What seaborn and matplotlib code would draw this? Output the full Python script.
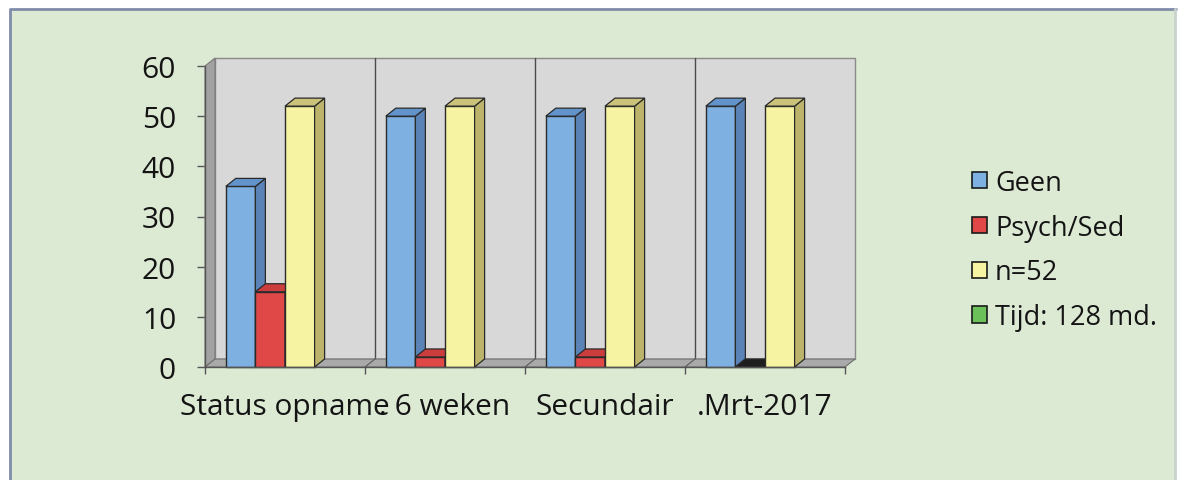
import numpy as np
import pandas as pd
import matplotlib
matplotlib.use("Agg")
import matplotlib.pyplot as plt
from matplotlib.patches import Rectangle, Polygon, Patch
from matplotlib.lines import Line2D
from matplotlib.colors import to_hex
import seaborn as sns

# ---- data ----
categories = ["Status opname", ". 6 weken", "Secundair", ".Mrt-2017"]
series = ["Geen", "Psych/Sed", "n=52", "Tijd: 128 md."]
geen = [36, 50, 50, 52]
psych_sed = [15, 2, 2, 0]
n52 = [52, 52, 52, 52]
tijd = [np.nan, np.nan, np.nan, np.nan]
yticks = [0, 10, 20, 30, 40, 50, 60]

front_colors = ["#7EB1E1", "#E04848", "#F6F3A2", "#6CC05A"]
side_colors = ["#5A84B8", "#C23636", "#BDB46C", "#4F9A40"]
top_colors = ["#6393CB", "#CC3D3D", "#CCC27A", "#5BAE4B"]

df = pd.DataFrame({
    "category": np.repeat(categories, len(series)),
    "series": series * len(categories),
    "value": np.array([geen, psych_sed, n52, tijd]).T.ravel(),
})

sns.set_theme(style="white")
plt.rcParams["font.family"] = ["Open Sans", "DejaVu Sans"]

W, H = 1184, 481
fig = plt.figure(figsize=(W / 100, H / 100), dpi=100)
fig.patch.set_facecolor("white")

# outer panel
fig.add_artist(Rectangle((10 / W, -0.1), 1166 / W, (H - 10) / H + 0.1,
                         transform=fig.transFigure, facecolor="#DCE9D3",
                         edgecolor="none", zorder=0))
fig.add_artist(Line2D([10 / W, 10 / W, 1176 / W], [-0.1, 1 - 10 / H, 1 - 10 / H],
                      transform=fig.transFigure, color="#7F8CAA", lw=2, zorder=0.1))
fig.add_artist(Line2D([1175 / W, 1175 / W], [-0.1, 1 - 10 / H],
                      transform=fig.transFigure, color="#C9D3CC", lw=2, zorder=0.1))

ax = fig.add_axes([205 / W, 1 - 368 / H, 640 / W, 301 / H])
ax.set_facecolor("none")

sns.barplot(data=df, x="category", y="value", hue="series", order=categories,
            hue_order=series, palette=front_colors, width=0.74, saturation=1,
            edgecolor="#2A2A2A", linewidth=1.0, legend=False, ax=ax)
bars = [p for p in ax.patches if isinstance(p, Rectangle)]

ax.set_xlim(-0.5, len(categories) - 0.5)
ax.set_ylim(0, 60)

# depth offset (10 px right, 8 px up) in data units
dx = 10 / 160
dy = 8 * 60 / 301
x0, x1 = -0.5, len(categories) - 0.5

wall_kw = dict(clip_on=False)
# back wall
ax.add_patch(Rectangle((x0 + dx, dy), x1 - x0, 60, facecolor="#D8D8D8",
                       edgecolor="#8A8A8A", linewidth=1, zorder=0.5, **wall_kw))
# left side wall
ax.add_patch(Polygon([(x0, 0), (x0 + dx, dy), (x0 + dx, 60 + dy), (x0, 60)],
                     closed=True, facecolor="#A2A2A2", edgecolor="#7A7A7A",
                     linewidth=0.8, zorder=0.6, **wall_kw))
# floor
ax.add_patch(Polygon([(x0, 0), (x1, 0), (x1 + dx, dy), (x0 + dx, dy)],
                     closed=True, facecolor="#A9A9A9", edgecolor="#6E6E6E",
                     linewidth=0.8, zorder=0.6, **wall_kw))
# category dividers on back wall and floor
for b in np.arange(x0 + 1, x1, 1.0):
    ax.plot([b + dx, b + dx], [dy, 60 + dy], color="#4A4A4A", lw=1.0,
            zorder=0.55, clip_on=False)
    ax.plot([b, b + dx], [0, dy], color="#5A5A5A", lw=0.8, zorder=0.7,
            clip_on=False)

# 3D faces on bars
fmap = {to_hex(c): i for i, c in enumerate(front_colors)}
bars_sorted = sorted(bars, key=lambda p: p.get_x())
for k, bar in enumerate(bars_sorted):
    h = bar.get_height()
    if not np.isfinite(h):
        continue
    idx = fmap.get(to_hex(bar.get_facecolor()), 0)
    bx0 = bar.get_x()
    bx1 = bx0 + bar.get_width()
    z = 3 + 0.01 * k
    bar.set_zorder(z)
    bar.set_clip_on(False)
    top_c = top_colors[idx] if h > 0 else "#1E1E1E"
    ax.add_patch(Polygon([(bx1, 0), (bx1 + dx, dy), (bx1 + dx, h + dy), (bx1, h)],
                         closed=True, facecolor=side_colors[idx],
                         edgecolor="#2A2A2A", linewidth=0.9, zorder=z + 0.001,
                         clip_on=False))
    ax.add_patch(Polygon([(bx0, h), (bx1, h), (bx1 + dx, h + dy), (bx0 + dx, h + dy)],
                         closed=True, facecolor=top_c,
                         edgecolor="#2A2A2A", linewidth=0.9, zorder=z + 0.002,
                         clip_on=False))

# axes styling
for s in ["top", "right"]:
    ax.spines[s].set_visible(False)
for s in ["left", "bottom"]:
    ax.spines[s].set_color("#555555")
    ax.spines[s].set_linewidth(1.0)
    ax.spines[s].set_zorder(5)

ax.set_yticks(yticks)
ax.set_yticklabels([str(v) for v in yticks])
ax.tick_params(axis="y", direction="out", length=5.8, width=1, color="#555555",
               pad=15, labelsize=21.5, labelcolor="#141414", left=True)
ax.set_xticks(range(len(categories)))
ax.set_xticklabels(categories)
ax.set_xticks(np.arange(x0, x1 + 0.01, 1.0), minor=True)
ax.tick_params(axis="x", which="major", length=0, pad=18, labelsize=21.5,
               labelcolor="#141414")
ax.tick_params(axis="x", which="minor", direction="out", length=5, width=1,
               color="#555555", bottom=True)
ax.set_xlabel("")
ax.set_ylabel("")

# legend
handles = [Patch(facecolor=c, edgecolor="#1A1A1A", linewidth=1.2) for c in front_colors]
fig.legend(handles, series, loc="center left",
           bbox_to_anchor=(972 / W, 1 - 251 / H), frameon=False,
           fontsize=19.5, handlelength=0.55, handleheight=0.55,
           handletextpad=0.3, labelspacing=0.62, labelcolor="#141414",
           borderaxespad=0, borderpad=0)

fig.savefig("out.png", dpi=100)
